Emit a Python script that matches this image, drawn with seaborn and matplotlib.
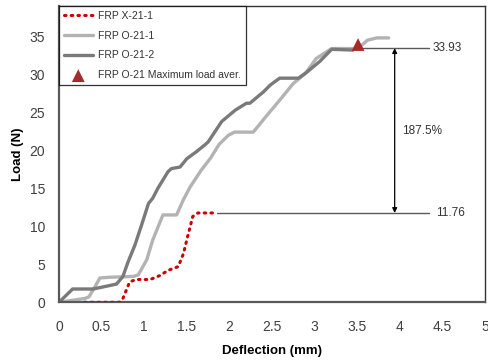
import numpy as np
import pandas as pd
import matplotlib
matplotlib.use("Agg")
import matplotlib.pyplot as plt
import seaborn as sns

# ---- data ----
x21_1_x = [0.30, 0.71, 0.75, 0.83, 0.91, 1.07, 1.18, 1.28, 1.40, 1.46, 1.52, 1.57, 1.63, 1.85]
x21_1_y = [0.0, 0.0, 0.5, 2.7, 3.0, 3.0, 3.5, 4.2, 4.7, 6.4, 9.1, 11.3, 11.76, 11.76]

o21_1_x = [0.0, 0.30, 0.35, 0.42, 0.48, 0.60, 0.87, 0.93, 1.03, 1.10, 1.22, 1.38, 1.46, 1.54,
           1.67, 1.78, 1.88, 1.99, 2.06, 2.28, 2.44, 2.59, 2.75, 2.89, 3.02, 3.20, 3.50, 3.56,
           3.62, 3.73, 3.87]
o21_1_y = [0.0, 0.5, 0.7, 2.0, 3.2, 3.3, 3.4, 3.6, 5.6, 8.2, 11.5, 11.5, 13.5, 15.2,
           17.4, 19.0, 20.8, 22.0, 22.4, 22.4, 24.6, 26.6, 28.8, 30.1, 32.1, 33.4, 33.4, 33.9,
           34.5, 34.8, 34.8]

o21_2_x = [0.0, 0.16, 0.40, 0.55, 0.675, 0.75, 0.81, 0.89, 0.97, 1.05, 1.10, 1.16, 1.28, 1.32,
           1.42, 1.50, 1.61, 1.71, 1.75, 1.91, 2.07, 2.20, 2.24, 2.40, 2.48, 2.59, 2.81, 2.91,
           3.06, 3.20, 3.45]
o21_2_y = [0.0, 1.75, 1.75, 2.1, 2.4, 3.4, 5.3, 7.5, 10.2, 13.0, 13.7, 15.0, 17.2, 17.6,
           17.8, 18.9, 19.8, 20.7, 21.1, 23.8, 25.3, 26.2, 26.2, 27.7, 28.6, 29.5, 29.5, 30.3,
           31.7, 33.3, 33.2]

max_x = [3.51]
max_y = [33.93]

labels = ["FRP X-21-1", "FRP O-21-1", "FRP O-21-2", "FRP O-21 Maximum load aver."]
x_ticks = [0, 0.5, 1, 1.5, 2, 2.5, 3, 3.5, 4, 4.5, 5]
x_tick_labels = ["0", "0.5", "1", "1.5", "2", "2.5", "3", "3.5", "4", "4.5", "5"]
y_ticks = [0, 5, 10, 15, 20, 25, 30, 35]
ann_high = 33.93
ann_low = 11.76
ann_pct = "187.5%"

# ---- plotting ----
sns.set_theme(style="white")
plt.rcParams['font.family'] = ['Liberation Sans', 'DejaVu Sans']

fig = plt.figure(figsize=(4.88, 3.61), dpi=100)
ax = fig.add_axes([59/488, 1 - 302.3/361, (485 - 59)/488, (302.3 - 6)/361])

df1 = pd.DataFrame({"x": x21_1_x, "y": x21_1_y})
df2 = pd.DataFrame({"x": o21_1_x, "y": o21_1_y})
df3 = pd.DataFrame({"x": o21_2_x, "y": o21_2_y})
dfm = pd.DataFrame({"x": max_x, "y": max_y})

sns.lineplot(data=df1, x="x", y="y", sort=False, estimator=None, ax=ax, color="#cc0000",
             lw=2.2, linestyle=(0, (0.5, 1.7)), dash_capstyle="round", label=labels[0], zorder=3)
sns.lineplot(data=df2, x="x", y="y", sort=False, estimator=None, ax=ax, color="#b3b3b3",
             lw=2.4, label=labels[1], zorder=2)
sns.lineplot(data=df3, x="x", y="y", sort=False, estimator=None, ax=ax, color="#7a7a7a",
             lw=2.4, label=labels[2], zorder=2)
sns.scatterplot(data=dfm, x="x", y="y", ax=ax, marker="^", color="#a52a2a", s=85,
                edgecolor="none", label=labels[3], zorder=4)

# annotation lines
ax.plot([3.55, 4.34], [33.45, 33.45], color="#595959", lw=1.0, zorder=1)
ax.plot([1.86, 4.34], [ann_low, ann_low], color="#595959", lw=1.0, zorder=1)
ax.annotate("", xy=(3.94, 33.45), xytext=(3.94, ann_low),
            arrowprops=dict(arrowstyle="<|-|>", color="black", lw=0.9, mutation_scale=7,
                            shrinkA=0, shrinkB=0))
ax.text(4.39, 33.45, f"{ann_high:.2f}", fontsize=8.5, color="#333333", va="center", ha="left")
ax.text(4.42, ann_low, f"{ann_low:.2f}", fontsize=8.5, color="#333333", va="center", ha="left")
ax.text(4.03, 22.6, ann_pct, fontsize=8.5, color="#333333", va="center", ha="left")

ax.set_xlim(0, 5)
ax.set_ylim(0, 39)
ax.set_xticks(x_ticks)
ax.set_xticklabels(x_tick_labels)
ax.set_yticks(y_ticks)
ax.tick_params(axis="both", length=0, labelsize=10, labelcolor="#404040")
ax.tick_params(axis="x", pad=13)
ax.tick_params(axis="y", pad=10)

for side in ["top", "right"]:
    ax.spines[side].set_color("#333333")
    ax.spines[side].set_linewidth(1.0)
for side in ["left", "bottom"]:
    ax.spines[side].set_color("#595959")
    ax.spines[side].set_linewidth(1.6)

ax.set_xlabel("Deflection (mm)", fontsize=9.5, fontweight="bold", color="black", labelpad=8)
ax.set_ylabel("Load (N)", fontsize=9.5, fontweight="bold", color="black", labelpad=4)

leg = ax.legend(loc="upper left", bbox_to_anchor=(0, 1), borderaxespad=0, fontsize=7.5,
                frameon=True, fancybox=False, edgecolor="black", handlelength=2.8,
                handletextpad=0.5, labelspacing=0.95, borderpad=0.45, labelcolor="#333333")
leg.get_frame().set_linewidth(0.9)

fig.savefig("out.png", dpi=100)
